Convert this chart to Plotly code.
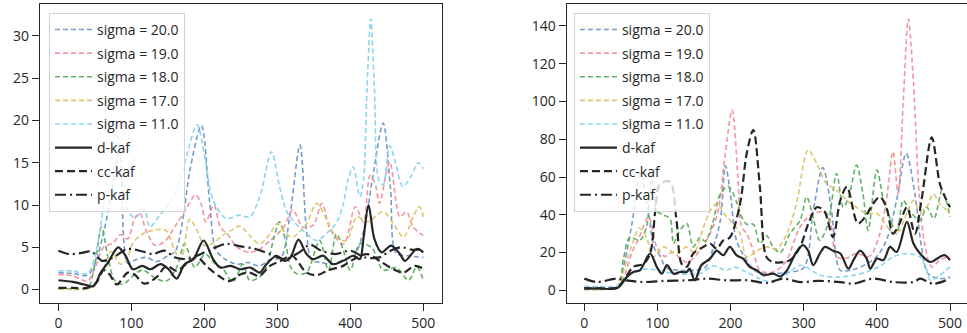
import plotly.graph_objects as go

# ---------------- LEFT PANEL DATA ----------------
L_S20_X = [0, 20, 40, 50, 60, 72, 84, 95, 105, 120, 135, 150, 160, 170, 180, 196, 207, 216, 230, 245, 260, 275, 290, 305, 317, 331, 340, 347, 360, 375, 390, 405, 418, 432, 445, 455, 463, 480, 500]
L_S20_Y = [2.0, 1.9, 1.7, 3.0, 6.0, 11.0, 16.5, 3.1, 3.5, 3.8, 3.3, 4.0, 4.5, 8.0, 14.0, 19.4, 10.6, 4.7, 3.5, 3.0, 3.2, 2.8, 3.5, 3.8, 8.6, 17.1, 6.9, 3.5, 3.2, 3.0, 3.5, 4.0, 6.9, 14.0, 19.7, 12.0, 4.3, 4.0, 3.8]

L_S19_X = [0, 20, 40, 50, 62, 75, 85, 95, 105, 112, 120, 133, 147, 160, 175, 188, 196, 202, 213, 222, 232, 245, 262, 276, 290, 309, 321, 335, 349, 361, 373, 391, 407, 418, 427, 434, 440, 454, 468, 477, 486, 500]
L_S19_Y = [1.8, 1.6, 1.0, 2.5, 5.0, 5.5, 6.5, 6.0, 8.5, 9.0, 7.0, 5.2, 5.8, 7.5, 9.5, 11.2, 10.0, 8.0, 10.0, 7.4, 6.5, 5.0, 4.4, 4.8, 5.8, 7.4, 9.4, 7.4, 7.6, 10.2, 7.0, 5.4, 9.8, 8.0, 13.5, 12.5, 10.2, 15.1, 8.6, 9.2, 7.4, 6.4]

L_S18_X = [0, 20, 40, 50, 59, 68, 77, 88, 102, 115, 134, 148, 162, 173, 187, 201, 215, 225, 239, 253, 262, 276, 285, 295, 303, 312, 317, 326, 340, 358, 370, 381, 391, 400, 413, 429, 445, 463, 480, 491, 500]
L_S18_Y = [0.1, 0.1, 0.2, 3.0, 7.4, 3.8, 1.1, 0.6, 1.6, 2.3, 1.3, 1.0, 2.6, 5.4, 2.6, 4.2, 3.0, 2.5, 0.9, 3.0, 1.1, 1.5, 2.6, 6.0, 8.0, 5.4, 2.9, 1.9, 2.0, 5.8, 2.3, 6.6, 4.5, 2.3, 5.4, 5.0, 2.3, 2.6, 1.1, 2.7, 1.1]

L_S17_X = [0, 20, 40, 50, 62, 72, 85, 94, 102, 116, 129, 147, 160, 168, 180, 190, 200, 212, 225, 237, 249, 262, 276, 290, 300, 312, 321, 340, 354, 368, 381, 395, 409, 423, 445, 459, 473, 486, 495, 500]
L_S17_Y = [0.1, 0.0, 0.1, 0.6, 2.5, 4.5, 3.0, 3.6, 5.5, 6.6, 7.0, 7.0, 4.5, 3.6, 8.3, 7.0, 5.2, 5.5, 6.4, 7.0, 7.5, 6.4, 5.4, 6.6, 7.8, 6.6, 6.2, 7.8, 10.2, 8.2, 6.2, 5.8, 8.6, 8.0, 9.2, 7.8, 6.2, 8.6, 9.8, 8.6]

L_S11_X = [0, 20, 40, 50, 62, 70, 79, 88, 95, 105, 118, 125, 139, 155, 165, 174, 190, 200, 212, 230, 248, 262, 276, 292, 303, 312, 321, 335, 354, 368, 381, 390, 397, 404, 413, 418, 423, 428, 433, 439, 445, 454, 462, 472, 484, 493, 500]
L_S11_Y = [2.2, 2.2, 1.9, 3.9, 10.0, 14.5, 18.5, 14.0, 9.4, 8.5, 9.5, 7.4, 8.8, 10.6, 12.6, 15.3, 19.5, 16.0, 10.6, 8.4, 8.8, 8.6, 11.0, 16.3, 12.2, 9.4, 8.2, 7.0, 5.8, 6.7, 7.9, 10.0, 13.0, 14.5, 11.0, 13.0, 24.0, 32.0, 24.0, 13.0, 12.4, 17.0, 15.0, 12.2, 13.5, 15.0, 14.3]

L_D_X = [0, 20, 35, 48, 58, 68, 82, 92, 102, 115, 126, 140, 151, 162, 173, 185, 199, 212, 222, 236, 249, 263, 276, 285, 299, 310, 318, 329, 340, 349, 363, 376, 390, 404, 413, 418, 425, 433, 443, 456, 468, 475, 491, 500]
L_D_Y = [1.1, 0.9, 0.6, 0.4, 2.0, 3.2, 5.0, 4.0, 2.4, 2.8, 2.4, 3.0, 2.4, 1.3, 3.0, 3.6, 5.8, 3.6, 2.6, 2.8, 2.4, 2.6, 2.0, 3.0, 4.0, 3.4, 3.8, 5.9, 4.2, 3.6, 4.0, 3.0, 3.4, 4.0, 3.6, 6.0, 10.0, 6.0, 4.4, 5.2, 4.2, 3.4, 4.8, 4.4]

L_CC_X = [0, 20, 40, 52, 62, 70, 80, 95, 104, 118, 135, 148, 162, 175, 190, 205, 220, 234, 250, 262, 275, 290, 305, 320, 340, 354, 370, 390, 405, 423, 440, 459, 473, 488, 500]
L_CC_Y = [0.2, 0.2, 0.2, 0.8, 2.3, 1.8, 0.6, 2.0, 1.8, 0.7, 1.5, 2.8, 2.2, 3.0, 3.8, 2.6, 1.6, 1.0, 1.8, 2.0, 1.6, 2.8, 3.4, 4.0, 2.0, 1.7, 2.3, 2.8, 3.6, 4.2, 3.4, 2.4, 2.0, 2.8, 2.5]

L_P_X = [0, 15, 30, 45, 60, 75, 95, 115, 130, 145, 160, 175, 190, 210, 230, 250, 270, 290, 310, 330, 345, 360, 380, 400, 420, 440, 455, 470, 485, 500]
L_P_Y = [4.6, 4.2, 4.3, 4.5, 3.4, 3.8, 4.8, 4.5, 4.2, 4.6, 3.8, 3.6, 4.0, 4.8, 5.4, 5.1, 4.8, 4.2, 3.6, 4.4, 5.3, 4.6, 4.2, 4.6, 3.8, 3.8, 4.6, 5.0, 4.7, 4.8]

# ---------------- RIGHT PANEL DATA ----------------
R_S20_X = [0, 20, 45, 55, 65, 77, 88, 96, 103, 112, 130, 150, 165, 178, 186, 193, 200, 208, 222, 235, 255, 277, 300, 313, 326, 338, 345, 350, 368, 386, 400, 413, 427, 440, 452, 461, 470, 486, 500]
R_S20_Y = [1.5, 1.5, 2.0, 15.0, 35.0, 62.0, 40.0, 22.0, 18.6, 12.0, 10.6, 10.6, 12.0, 25.0, 37.0, 66.0, 50.0, 26.5, 16.0, 10.0, 9.0, 9.5, 12.0, 42.0, 65.0, 42.0, 16.0, 10.6, 11.0, 14.0, 18.0, 26.5, 47.7, 72.5, 51.0, 23.0, 8.8, 6.2, 7.0]

R_S19_X = [0, 20, 45, 55, 65, 75, 88, 99, 110, 120, 140, 160, 181, 192, 202, 210, 215, 222, 231, 240, 258, 275, 295, 310, 327, 335, 345, 358, 372, 390, 404, 413, 422, 429, 436, 443, 450, 458, 466, 475, 486, 500]
R_S19_Y = [1.5, 1.5, 2.0, 8.0, 20.0, 28.0, 39.0, 23.0, 18.0, 20.0, 15.0, 22.0, 39.0, 70.0, 95.5, 60.0, 33.6, 30.0, 21.0, 10.6, 9.7, 15.0, 33.6, 40.0, 41.6, 38.9, 17.7, 17.0, 19.5, 18.0, 30.0, 47.7, 73.4, 51.0, 100.0, 143.6, 110.0, 50.0, 23.0, 12.4, 16.0, 17.7]

R_S18_X = [0, 20, 45, 54, 62, 76, 85, 92, 99, 108, 117, 122, 128, 140, 149, 158, 165, 175, 186, 197, 208, 213, 222, 231, 240, 249, 258, 268, 281, 295, 304, 312, 322, 333, 345, 354, 362, 372, 381, 388, 400, 409, 418, 427, 436, 445, 459, 468, 478, 489, 495, 500]
R_S18_Y = [0.5, 0.5, 2.0, 17.7, 28.0, 26.5, 33.6, 61.0, 42.0, 40.0, 38.0, 24.8, 30.0, 35.4, 23.0, 28.0, 26.0, 35.0, 51.0, 55.0, 47.0, 40.7, 35.0, 35.0, 24.8, 29.0, 23.0, 20.0, 30.0, 37.0, 49.5, 40.0, 26.5, 35.0, 61.9, 44.0, 50.0, 66.3, 51.0, 31.8, 63.7, 47.7, 38.0, 30.0, 47.7, 42.0, 37.0, 44.0, 38.0, 53.0, 47.0, 38.9]

R_S17_X = [0, 20, 45, 55, 67, 75, 85, 94, 108, 126, 140, 150, 163, 172, 181, 192, 202, 213, 222, 236, 249, 263, 277, 290, 306, 318, 331, 345, 359, 372, 386, 400, 418, 427, 441, 450, 459, 468, 477, 486, 500]
R_S17_Y = [0.5, 0.5, 1.5, 12.0, 26.0, 33.0, 28.0, 17.7, 23.0, 19.5, 23.0, 20.0, 33.6, 42.0, 46.0, 40.0, 36.0, 30.0, 17.7, 21.0, 23.0, 22.0, 30.0, 46.0, 74.3, 67.0, 56.6, 53.0, 47.7, 44.0, 40.7, 40.7, 31.8, 30.0, 40.7, 47.7, 42.0, 44.0, 51.0, 46.0, 40.7]

R_S11_X = [0, 20, 45, 55, 62, 76, 94, 103, 120, 140, 158, 176, 195, 204, 220, 240, 258, 277, 295, 305, 322, 345, 368, 386, 405, 422, 441, 459, 467, 473, 486, 500]
R_S11_Y = [2.0, 2.0, 2.5, 6.0, 8.8, 11.0, 11.0, 10.5, 9.0, 8.5, 8.8, 13.0, 10.6, 12.4, 10.0, 6.2, 4.4, 8.8, 13.3, 12.0, 8.0, 7.0, 8.0, 9.7, 13.0, 17.7, 19.5, 17.7, 12.0, 5.3, 8.0, 12.4]

R_D_X = [0, 20, 45, 58, 67, 76, 90, 99, 106, 113, 122, 131, 140, 144, 151, 160, 172, 181, 190, 199, 208, 217, 226, 236, 245, 258, 268, 277, 290, 299, 306, 313, 322, 329, 340, 350, 361, 368, 377, 386, 391, 400, 409, 418, 427, 441, 450, 459, 473, 486, 493, 500]
R_D_Y = [1.0, 1.0, 1.2, 7.0, 9.7, 10.6, 19.5, 12.4, 8.8, 13.3, 8.8, 9.7, 9.7, 11.5, 5.3, 13.3, 16.8, 21.0, 18.6, 23.0, 18.6, 16.8, 12.4, 10.6, 8.0, 8.8, 7.4, 10.6, 20.3, 23.9, 21.0, 13.3, 19.5, 23.0, 21.0, 19.5, 11.5, 16.0, 21.0, 16.8, 11.5, 16.8, 16.0, 23.0, 20.3, 36.3, 24.8, 19.5, 15.0, 17.7, 18.6, 16.0]

R_CC_X = [0, 20, 45, 55, 67, 81, 90, 97, 103, 117, 126, 133, 140, 149, 163, 172, 181, 190, 199, 213, 222, 231, 240, 249, 258, 281, 295, 306, 318, 328, 340, 350, 359, 374, 384, 395, 404, 413, 422, 431, 441, 452, 461, 475, 486, 493, 500]
R_CC_Y = [1.0, 1.0, 1.5, 6.0, 12.4, 14.0, 19.5, 42.0, 56.0, 57.5, 37.0, 14.0, 12.4, 19.5, 23.0, 24.8, 22.0, 26.5, 28.0, 46.0, 72.5, 84.9, 54.8, 17.7, 15.0, 15.9, 23.0, 35.0, 44.0, 42.0, 28.3, 47.7, 54.8, 35.4, 38.9, 46.0, 49.5, 44.0, 30.0, 35.4, 44.0, 30.0, 47.7, 81.0, 56.6, 49.5, 44.0]

R_P_X = [0, 17, 44, 58, 80, 110, 140, 167, 195, 225, 249, 272, 295, 320, 350, 368, 395, 422, 450, 459, 477, 500]
R_P_Y = [6.2, 4.4, 6.2, 5.3, 4.4, 5.0, 5.3, 6.2, 5.3, 5.3, 3.9, 6.2, 4.4, 5.0, 4.4, 3.5, 6.2, 4.4, 4.4, 6.2, 3.5, 6.2]

NAMES = ["sigma = 20.0", "sigma = 19.0", "sigma = 18.0", "sigma = 17.0", "sigma = 11.0", "d-kaf", "cc-kaf", "p-kaf"]
COLORS = ["#6e98c8", "#f4909c", "#5aae5c", "#dcc468", "#86d3ef", "#262626", "#262626", "#262626"]
DASHES = ["5px,3px"] * 5 + ["solid", "8px,4px", "11px,4px,2px,4px"]
WIDTHS = [1.6] * 5 + [2.2, 2.2, 2.2]

LEFT = [(L_S20_X, L_S20_Y), (L_S19_X, L_S19_Y), (L_S18_X, L_S18_Y), (L_S17_X, L_S17_Y),
        (L_S11_X, L_S11_Y), (L_D_X, L_D_Y), (L_CC_X, L_CC_Y), (L_P_X, L_P_Y)]
RIGHT = [(R_S20_X, R_S20_Y), (R_S19_X, R_S19_Y), (R_S18_X, R_S18_Y), (R_S17_X, R_S17_Y),
         (R_S11_X, R_S11_Y), (R_D_X, R_D_Y), (R_CC_X, R_CC_Y), (R_P_X, R_P_Y)]

fig = go.Figure()
for panel, (series, xa, ya, lg) in enumerate([(LEFT, "x", "y", "legend"), (RIGHT, "x2", "y2", "legend2")]):
    for i, (xs, ys) in enumerate(series):
        fig.add_trace(go.Scatter(
            x=xs, y=ys, mode="lines", name=NAMES[i],
            line=dict(color=COLORS[i], dash=DASHES[i], width=WIDTHS[i], shape="spline", smoothing=0.9),
            opacity=1.0 if i >= 5 else 0.95,
            xaxis=xa, yaxis=ya, legend=lg, legendgroup=f"g{panel}{i}",
        ))

FONT = dict(family="Open Sans", size=14, color="#262626")
axis_common = dict(showgrid=False, zeroline=False, showline=True, linecolor="#262626", linewidth=1.3,
                   ticks="outside", ticklen=7, tickwidth=1.3, tickcolor="#262626", tickfont=FONT)

leg_common = dict(font=FONT, bgcolor="rgba(255,255,255,0.8)", bordercolor="#d4d4d4", borderwidth=1,
                  xanchor="left", yanchor="top", traceorder="grouped", tracegroupgap=2.4, itemwidth=37)

fig.update_layout(
    width=967, height=333,
    margin=dict(l=40, r=0, t=4, b=30),
    paper_bgcolor="white", plot_bgcolor="white",
    font=FONT,
    xaxis=dict(domain=[0.0, 0.4333], range=[-25.2, 525.2], tickvals=[0, 100, 200, 300, 400, 500], mirror=True, **axis_common),
    yaxis=dict(range=[-1.59, 33.77], tickvals=[0, 5, 10, 15, 20, 25, 30], mirror=True, **axis_common),
    xaxis2=dict(domain=[0.5682, 1.0], range=[-24.06, 523.2], tickvals=[0, 100, 200, 300, 400, 500], mirror=True, anchor="y2", **axis_common),
    yaxis2=dict(range=[-6.7, 151.6], tickvals=[0, 20, 40, 60, 80, 100, 120, 140], anchor="x2", **axis_common),
    legend=dict(x=0.0097, y=0.970, **leg_common),
    legend2=dict(x=0.576, y=0.970, **leg_common),
)

fig.write_html("out.html")
